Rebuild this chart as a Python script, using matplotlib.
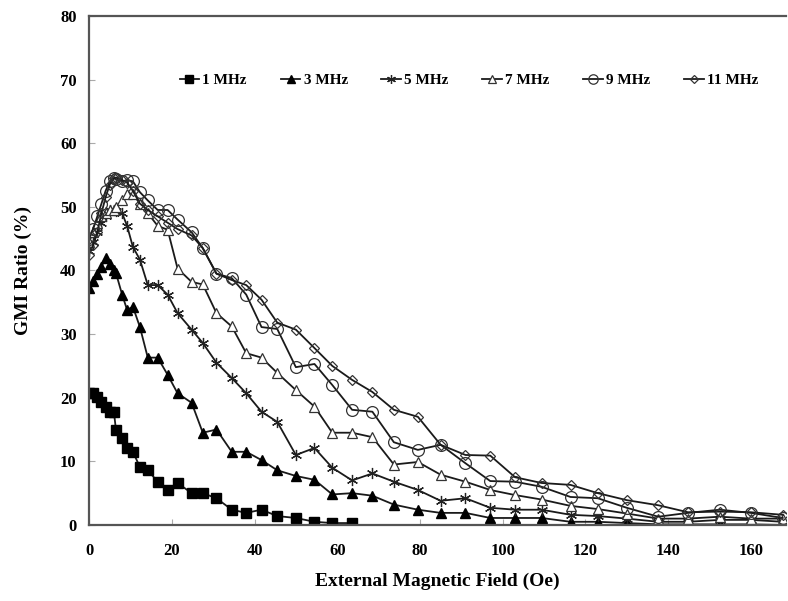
import matplotlib
matplotlib.use("Agg")
import matplotlib.pyplot as plt
import numpy as np

plt.rcParams['font.family'] = ['Liberation Serif', 'DejaVu Serif']
plt.rcParams['font.weight'] = 'bold'

# External magnetic field (Oe)
field = [0, 1, 2, 3, 4, 5, 6, 6.5, 8, 9.2, 10.6, 12.3, 14.2, 16.6, 19, 21.4,
         24.8, 27.5, 30.8, 34.5, 38, 41.7, 45.5, 50, 54.5, 58.8, 63.6, 68.5,
         73.7, 79.5, 85, 91, 97, 103, 109.4, 116.4, 123, 130, 137.6, 144.8,
         152.5, 160, 167.7]

gmi_1mhz = [20.7, 20.7, 20.1, 19.3, 18.5, 17.8, 17.8, 15.0, 13.7, 12.1, 11.5,
            9.1, 8.6, 6.8, 5.5, 6.6, 5.0, 5.0, 4.2, 2.4, 1.9, 2.4, 1.4, 1.1,
            0.5, 0.3, 0.3]

gmi_3mhz = [37.2, 38.3, 39.4, 40.6, 42.0, 41.0, 40.0, 39.6, 36.2, 33.8, 34.3,
            31.1, 26.3, 26.3, 23.6, 20.7, 19.2, 14.5, 15.0, 11.5, 11.5, 10.2,
            8.6, 7.7, 7.1, 4.8, 5.0, 4.6, 3.2, 2.4, 1.9, 1.9, 1.1, 1.1, 1.1,
            0.5, 0.5, 0.3, 0.1, 0.1, 0.1, 0.1, 0.0]

gmi_5mhz = [43.0, 44.5, 46.0, 47.5, 48.5, 49.5, 49.5, 49.3, 49.0, 47.0, 43.7,
            41.7, 37.7, 37.7, 36.2, 33.3, 30.7, 28.6, 25.5, 23.1, 20.7, 17.8,
            16.2, 11.0, 12.1, 9.0, 7.0, 8.1, 6.8, 5.5, 3.8, 4.2, 2.7, 2.4, 2.4,
            1.6, 1.4, 1.0, 0.5, 0.5, 0.8, 0.8, 0.5]

gmi_7mhz = [44.5, 46.0, 47.5, 48.5, 49.0, 49.5, 49.5, 50.0, 51.0, 52.0, 52.0,
            50.5, 49.0, 47.0, 46.4, 40.3, 38.2, 37.8, 33.3, 31.2, 27.0, 26.3,
            23.9, 21.2, 18.6, 14.5, 14.5, 13.8, 9.5, 9.9, 7.9, 6.8, 5.5, 4.7,
            4.0, 3.0, 2.5, 1.8, 1.0, 1.0, 1.3, 1.0, 1.0]

gmi_9mhz = [45.0, 46.5, 48.5, 50.5, 52.5, 54.0, 54.5, 54.3, 54.0, 54.2, 54.0,
            52.3, 51.0, 49.5, 49.5, 48.0, 46.0, 43.5, 39.5, 38.8, 36.2, 31.1,
            30.8, 24.8, 25.3, 22.0, 18.1, 17.8, 13.0, 11.8, 12.6, 9.7, 6.9,
            6.8, 6.0, 4.4, 4.2, 2.7, 1.3, 1.9, 2.4, 1.9, 1.1]

gmi_11mhz = [42.5, 44.0, 46.0, 49.0, 51.5, 53.5, 54.5, 54.6, 54.2, 53.8, 52.5,
             50.5, 49.5, 48.5, 47.5, 46.5, 45.5, 43.5, 39.5, 38.5, 37.7, 35.4,
             31.8, 30.7, 27.8, 25.0, 22.8, 20.9, 18.1, 17.0, 12.6, 11.0, 10.9,
             7.5, 6.6, 6.3, 5.0, 3.9, 3.1, 2.0, 2.1, 2.0, 1.6]

labels = ['1 MHz', '3 MHz', '5 MHz', '7 MHz', '9 MHz', '11 MHz']
x_ticks = [0, 20, 40, 60, 80, 100, 120, 140, 160]
y_ticks = [0, 10, 20, 30, 40, 50, 60, 70, 80]

series = [gmi_1mhz, gmi_3mhz, gmi_5mhz, gmi_7mhz, gmi_9mhz, gmi_11mhz]
styles = [
    dict(marker='s', markersize=6.5, markerfacecolor='black', markeredgecolor='black'),
    dict(marker='^', markersize=7, markerfacecolor='black', markeredgecolor='black'),
    dict(marker=(6, 2, 0), markersize=8, markeredgecolor='#222222', markeredgewidth=0.9),
    dict(marker='^', markersize=7, markerfacecolor='white', markeredgecolor='#333333', markeredgewidth=0.9),
    dict(marker='o', markersize=8.5, markerfacecolor='none', markeredgecolor='#333333', markeredgewidth=0.9),
    dict(marker='D', markersize=5.5, markerfacecolor='none', markeredgecolor='#333333', markeredgewidth=0.9),
]

fig = plt.figure(figsize=(7.88, 6.01), dpi=100)
ax = fig.add_axes([0.113, 0.1265, 0.8845, 0.847])

for vals, lab, st in zip(series, labels, styles):
    ax.plot(field[:len(vals)], vals, color='#1a1a1a', linewidth=1.3,
            label=lab, clip_on=True, **st)

ax.set_xlim(0, 168.5)
ax.set_ylim(0, 80)
ax.set_xticks(x_ticks)
ax.set_yticks(y_ticks)
ax.tick_params(direction='in', length=4, width=0.8, color='#aaaaaa',
               labelsize=12)
ax.tick_params(axis='x', pad=13)
ax.tick_params(axis='y', pad=9)
for lab in ax.get_xticklabels() + ax.get_yticklabels():
    lab.set_fontweight('bold')

for side in ['left', 'bottom', 'top']:
    ax.spines[side].set_color('#555555')
    ax.spines[side].set_linewidth(1.6)
ax.spines['right'].set_visible(False)

ax.set_xlabel('External Magnetic Field (Oe)', fontsize=14, fontweight='bold', labelpad=10)
ax.set_ylabel('GMI Ratio (%)', fontsize=14, fontweight='bold', labelpad=20)

leg = ax.legend(ncol=6, loc='center', bbox_to_anchor=(0.545, 0.874),
                frameon=False, handlelength=1.3, handletextpad=0.2,
                columnspacing=2.2, prop={'size': 11, 'weight': 'bold'},
                markerscale=0.8)

fig.savefig('out.png', dpi=100, facecolor='white')
